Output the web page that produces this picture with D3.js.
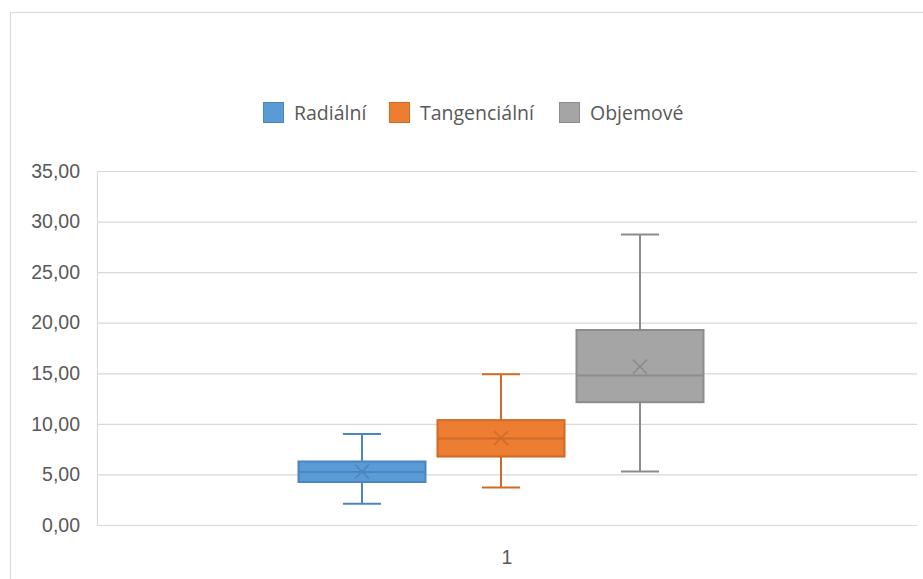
<!DOCTYPE html>
<html>
<head>
<meta charset="utf-8">
<script src="https://cdn.jsdelivr.net/npm/d3@7"></script>
<style>
  html, body { margin: 0; padding: 0; background: #fff; }
  svg { display: block; font-family: "Open Sans", "Noto Sans", sans-serif; }
</style>
</head>
<body>
<svg id="chart" width="923" height="579"></svg>
<script>
// Box-and-whisker summary per series (single category "1")
const categories = ["1"];
const seriesNames = ["Radiální", "Tangenciální", "Objemové"];
const seriesColors = ["#5B9BD5", "#ED7D31", "#A5A5A5"];
const seriesStrokes = ["#4A86C0", "#D06A26", "#8C8C8C"];
const minValues    = [2.10, 3.70, 5.30];
const q1Values     = [4.25, 6.77, 12.14];
const medianValues = [5.24, 8.55, 14.77];
const q3Values     = [6.28, 10.37, 19.28];
const maxValues    = [9.00, 14.90, 28.73];
const meanValues   = [5.28, 8.60, 15.66];
const yTicks = [0, 5, 10, 15, 20, 25, 30, 35];

const svg = d3.select("#chart");
const W = 923, H = 579;
const plot = { left: 97, right: 917, top: 171, bottom: 525 };
const fontSize = 19.5;

// chart frame
svg.append("rect")
  .attr("x", 10.5).attr("y", 12.5)
  .attr("width", W + 20).attr("height", H + 20)
  .attr("fill", "#fff").attr("stroke", "#D9D9D9").attr("stroke-width", 1.2);

const y = d3.scaleLinear().domain([0, 35]).range([plot.bottom, plot.top]);
const x = d3.scaleBand().domain(categories).range([plot.left, plot.right]);

// gridlines + value axis labels
const fmt = v => d3.format(".2f")(v).replace(".", ",");
const yAxis = d3.axisLeft(y).tickValues(yTicks).tickFormat(fmt)
  .tickSize(-(plot.right - plot.left)).tickPadding(17);
const gy = svg.append("g").attr("transform", `translate(${plot.left},0)`).call(yAxis);
gy.select(".domain").attr("stroke", "#D9D9D9").attr("stroke-width", 1.2);
gy.selectAll(".tick line").attr("stroke", "#D9D9D9").attr("stroke-width", 1.2);
gy.selectAll(".tick text").attr("fill", "#595959").attr("font-size", fontSize);

// category axis
const xAxis = d3.axisBottom(x).tickSize(0).tickPadding(25);
const gx = svg.append("g").attr("transform", `translate(0,${plot.bottom})`).call(xAxis);
gx.select(".domain").attr("stroke", "#D9D9D9").attr("stroke-width", 1.2);
gx.selectAll(".tick text").attr("fill", "#595959").attr("font-size", fontSize);

// series positions inside the category
const catCenter = x(categories[0]) + x.bandwidth() / 2 - 6;
const groupWidth = 405;
const xs = d3.scaleBand().domain(seriesNames)
  .range([catCenter - groupWidth / 2, catCenter + groupWidth / 2])
  .paddingInner(0.0863).paddingOuter(0);

const boxes = seriesNames.map((name, i) => ({
  name, fill: seriesColors[i], stroke: seriesStrokes[i],
  min: minValues[i], q1: q1Values[i], med: medianValues[i],
  q3: q3Values[i], max: maxValues[i], mean: meanValues[i]
}));

const g = svg.append("g");
boxes.forEach(b => {
  const x0 = xs(b.name), bw = xs.bandwidth(), cx = x0 + bw / 2;
  const capW = bw * 0.3;
  const s = g.append("g").attr("stroke", b.stroke).attr("stroke-width", 2);
  // whiskers
  s.append("line").attr("x1", cx).attr("x2", cx).attr("y1", y(b.max)).attr("y2", y(b.q3));
  s.append("line").attr("x1", cx).attr("x2", cx).attr("y1", y(b.q1)).attr("y2", y(b.min));
  s.append("line").attr("x1", cx - capW / 2).attr("x2", cx + capW / 2).attr("y1", y(b.max)).attr("y2", y(b.max));
  s.append("line").attr("x1", cx - capW / 2).attr("x2", cx + capW / 2).attr("y1", y(b.min)).attr("y2", y(b.min));
  // box
  s.append("rect").attr("x", x0).attr("y", y(b.q3))
    .attr("width", bw).attr("height", y(b.q1) - y(b.q3))
    .attr("fill", b.fill);
  // median
  s.append("line").attr("x1", x0).attr("x2", x0 + bw).attr("y1", y(b.med)).attr("y2", y(b.med));
  // mean marker
  const m = 7, my = y(b.mean);
  s.append("path").attr("d", `M${cx - m},${my - m}L${cx + m},${my + m}M${cx - m},${my + m}L${cx + m},${my - m}`)
    .attr("stroke-width", 1.5).attr("fill", "none");
});

// legend
const legend = svg.append("g").attr("font-size", fontSize).attr("fill", "#595959");
const legendTextX = [294, 420, 590];
seriesNames.forEach((name, i) => {
  const lg = legend.append("g").attr("transform", `translate(${legendTextX[i] - 31},102)`);
  lg.append("rect").attr("x", 0.5).attr("y", 0.5).attr("width", 20).attr("height", 20)
    .attr("fill", seriesColors[i]).attr("stroke", seriesStrokes[i]).attr("stroke-width", 1);
  lg.append("text").attr("x", 31).attr("y", 17.5).text(name);
});
</script>
</body>
</html>
